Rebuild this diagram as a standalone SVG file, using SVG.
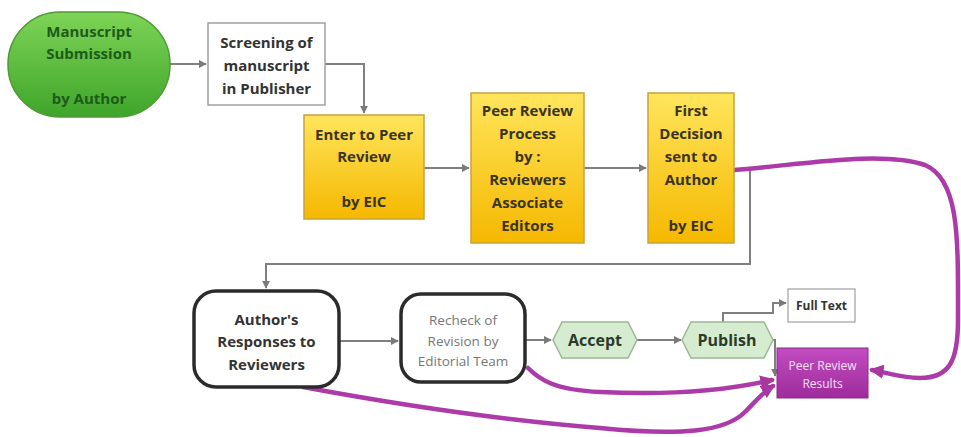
<svg xmlns="http://www.w3.org/2000/svg" width="961" height="437" viewBox="0 0 961 437">
<defs>
<linearGradient id="gGreen" x1="0" y1="0" x2="0" y2="1"><stop offset="0" stop-color="#7ed457"/><stop offset="1" stop-color="#3ea52a"/></linearGradient>
<linearGradient id="gYellow" x1="0" y1="0" x2="0" y2="1"><stop offset="0" stop-color="#ffe55c"/><stop offset="1" stop-color="#f5b800"/></linearGradient>
<linearGradient id="gMag" x1="0" y1="0" x2="0" y2="1"><stop offset="0" stop-color="#c24cc0"/><stop offset="1" stop-color="#9e2c9c"/></linearGradient>
<marker id="ag" viewBox="0 0 10 10" refX="9" refY="5" markerWidth="4" markerHeight="4" orient="auto"><path d="M0,0L10,5L0,10z" fill="#7a7a7a"/></marker>
<marker id="am" viewBox="0 0 10 10" refX="8" refY="5" markerWidth="3.2" markerHeight="3.2" orient="auto"><path d="M0,0L10,5L0,10z" fill="#a8389f"/></marker>
<style>
.t{font-family:"Open Sans","Noto Sans","DejaVu Sans",sans-serif;text-anchor:middle}
.b{font-weight:bold}
.gl{fill:none;stroke:#7f7f7f;stroke-width:2}
.pl{fill:none;stroke:#ad3aa9;stroke-width:4.5;stroke-linecap:round}
.yb{fill:url(#gYellow);stroke:#c9a33a;stroke-width:1.5}
.hx{fill:#d6ecd0;stroke:#9bb893;stroke-width:1.5}
.rr{fill:#fff;stroke:#2b2b2b;stroke-width:3.5}
</style>
</defs>
<rect width="961" height="437" fill="#fff"/>
<g id="connectors">
<path class="gl" d="M170,64H206" marker-end="url(#ag)"/>
<path class="gl" d="M325,64H364V113" marker-end="url(#ag)"/>
<path class="gl" d="M424,168H469" marker-end="url(#ag)"/>
<path class="gl" d="M584,168H646" marker-end="url(#ag)"/>
<path class="gl" d="M734,170H750V264H266V288" marker-end="url(#ag)"/>
<path class="gl" d="M340,341H398" marker-end="url(#ag)"/>
<path class="gl" d="M525,340H551" marker-end="url(#ag)"/>
<path class="gl" d="M637,340H681" marker-end="url(#ag)"/>
<path class="gl" d="M723,322V313H773V303H786" marker-end="url(#ag)"/>
<path class="gl" d="M773,340H775V376" marker-end="url(#ag)"/>
<path class="pl" d="M734,170C800,165 880,150 925,165C960,180 958,240 958,320C958,360 950,378 920,378C900,378 885,372 872,370" marker-end="url(#am)"/>
<path class="pl" d="M528,368C540,380 555,390 600,392C660,395 720,392 772,380" marker-end="url(#am)"/>
<path class="pl" d="M303,387C400,405 500,420 600,428C680,436 725,432 745,412C755,402 763,392 773,386" marker-end="url(#am)"/>
</g>
<g id="manuscript">
<rect x="8" y="12" width="162" height="105" rx="52" fill="url(#gGreen)" stroke="#4f9a35" stroke-width="1.5"/>
<text class="t b" font-size="15" fill="#1e5b1a"><tspan x="89" y="37">Manuscript</tspan><tspan x="89" y="59">Submission</tspan><tspan x="89" y="104">by Author</tspan></text>
</g>
<g id="screening">
<rect x="208" y="23" width="117" height="82" fill="#fff" stroke="#a0a0a0" stroke-width="1.5"/>
<text class="t b" font-size="15" fill="#333"><tspan x="266.5" y="48">Screening of</tspan><tspan x="266.5" y="71">manuscript</tspan><tspan x="266.5" y="94">in Publisher</tspan></text>
</g>
<g id="enter">
<rect class="yb" x="304" y="115" width="120" height="104"/>
<text class="t b" font-size="15" fill="#3a3320"><tspan x="364" y="140">Enter to Peer</tspan><tspan x="364" y="162">Review</tspan><tspan x="364" y="207">by EIC</tspan></text>
</g>
<g id="process">
<rect class="yb" x="471" y="93" width="113" height="150"/>
<text class="t b" font-size="15" fill="#3a3320"><tspan x="527.5" y="116">Peer Review</tspan><tspan x="527.5" y="139">Process</tspan><tspan x="527.5" y="162">by :</tspan><tspan x="527.5" y="185">Reviewers</tspan><tspan x="527.5" y="208">Associate</tspan><tspan x="527.5" y="231">Editors</tspan></text>
</g>
<g id="decision">
<rect class="yb" x="648" y="93" width="86" height="150"/>
<text class="t b" font-size="15" fill="#3a3320"><tspan x="691" y="116">First</tspan><tspan x="691" y="139">Decision</tspan><tspan x="691" y="162">sent to</tspan><tspan x="691" y="185">Author</tspan><tspan x="691" y="231">by EIC</tspan></text>
</g>
<g id="responses">
<rect class="rr" x="194" y="291" width="145" height="96" rx="22"/>
<text class="t b" font-size="15" fill="#333"><tspan x="266.5" y="325">Author's</tspan><tspan x="266.5" y="347">Responses to</tspan><tspan x="266.5" y="370">Reviewers</tspan></text>
</g>
<g id="recheck">
<rect class="rr" x="401" y="294" width="124" height="88" rx="20"/>
<text class="t" font-size="13.5" fill="#777"><tspan x="463" y="325">Recheck of</tspan><tspan x="463" y="346">Revision by</tspan><tspan x="463" y="366">Editorial Team</tspan></text>
</g>
<g id="accept">
<polygon class="hx" points="562,322 628,322 637,340 628,358 562,358 553,340"/>
<text class="t b" x="595" y="346" font-size="16" fill="#2b3a2b">Accept</text>
</g>
<g id="publish">
<polygon class="hx" points="691,322 764,322 773,340 764,358 691,358 682,340"/>
<text class="t b" x="727" y="346" font-size="16" fill="#2b3a2b">Publish</text>
</g>
<g id="fulltext">
<rect x="788" y="289" width="67" height="33" fill="#fff" stroke="#a0a0a0" stroke-width="1.2"/>
<text class="t b" x="821.5" y="310" font-size="12" fill="#333">Full Text</text>
</g>
<g id="results">
<rect x="777" y="348" width="91" height="50" fill="url(#gMag)" stroke="#8c2a8a" stroke-width="1"/>
<text class="t" font-size="12" fill="#f6e0f4"><tspan x="822.5" y="370">Peer Review</tspan><tspan x="822.5" y="388">Results</tspan></text>
</g>
</svg>
